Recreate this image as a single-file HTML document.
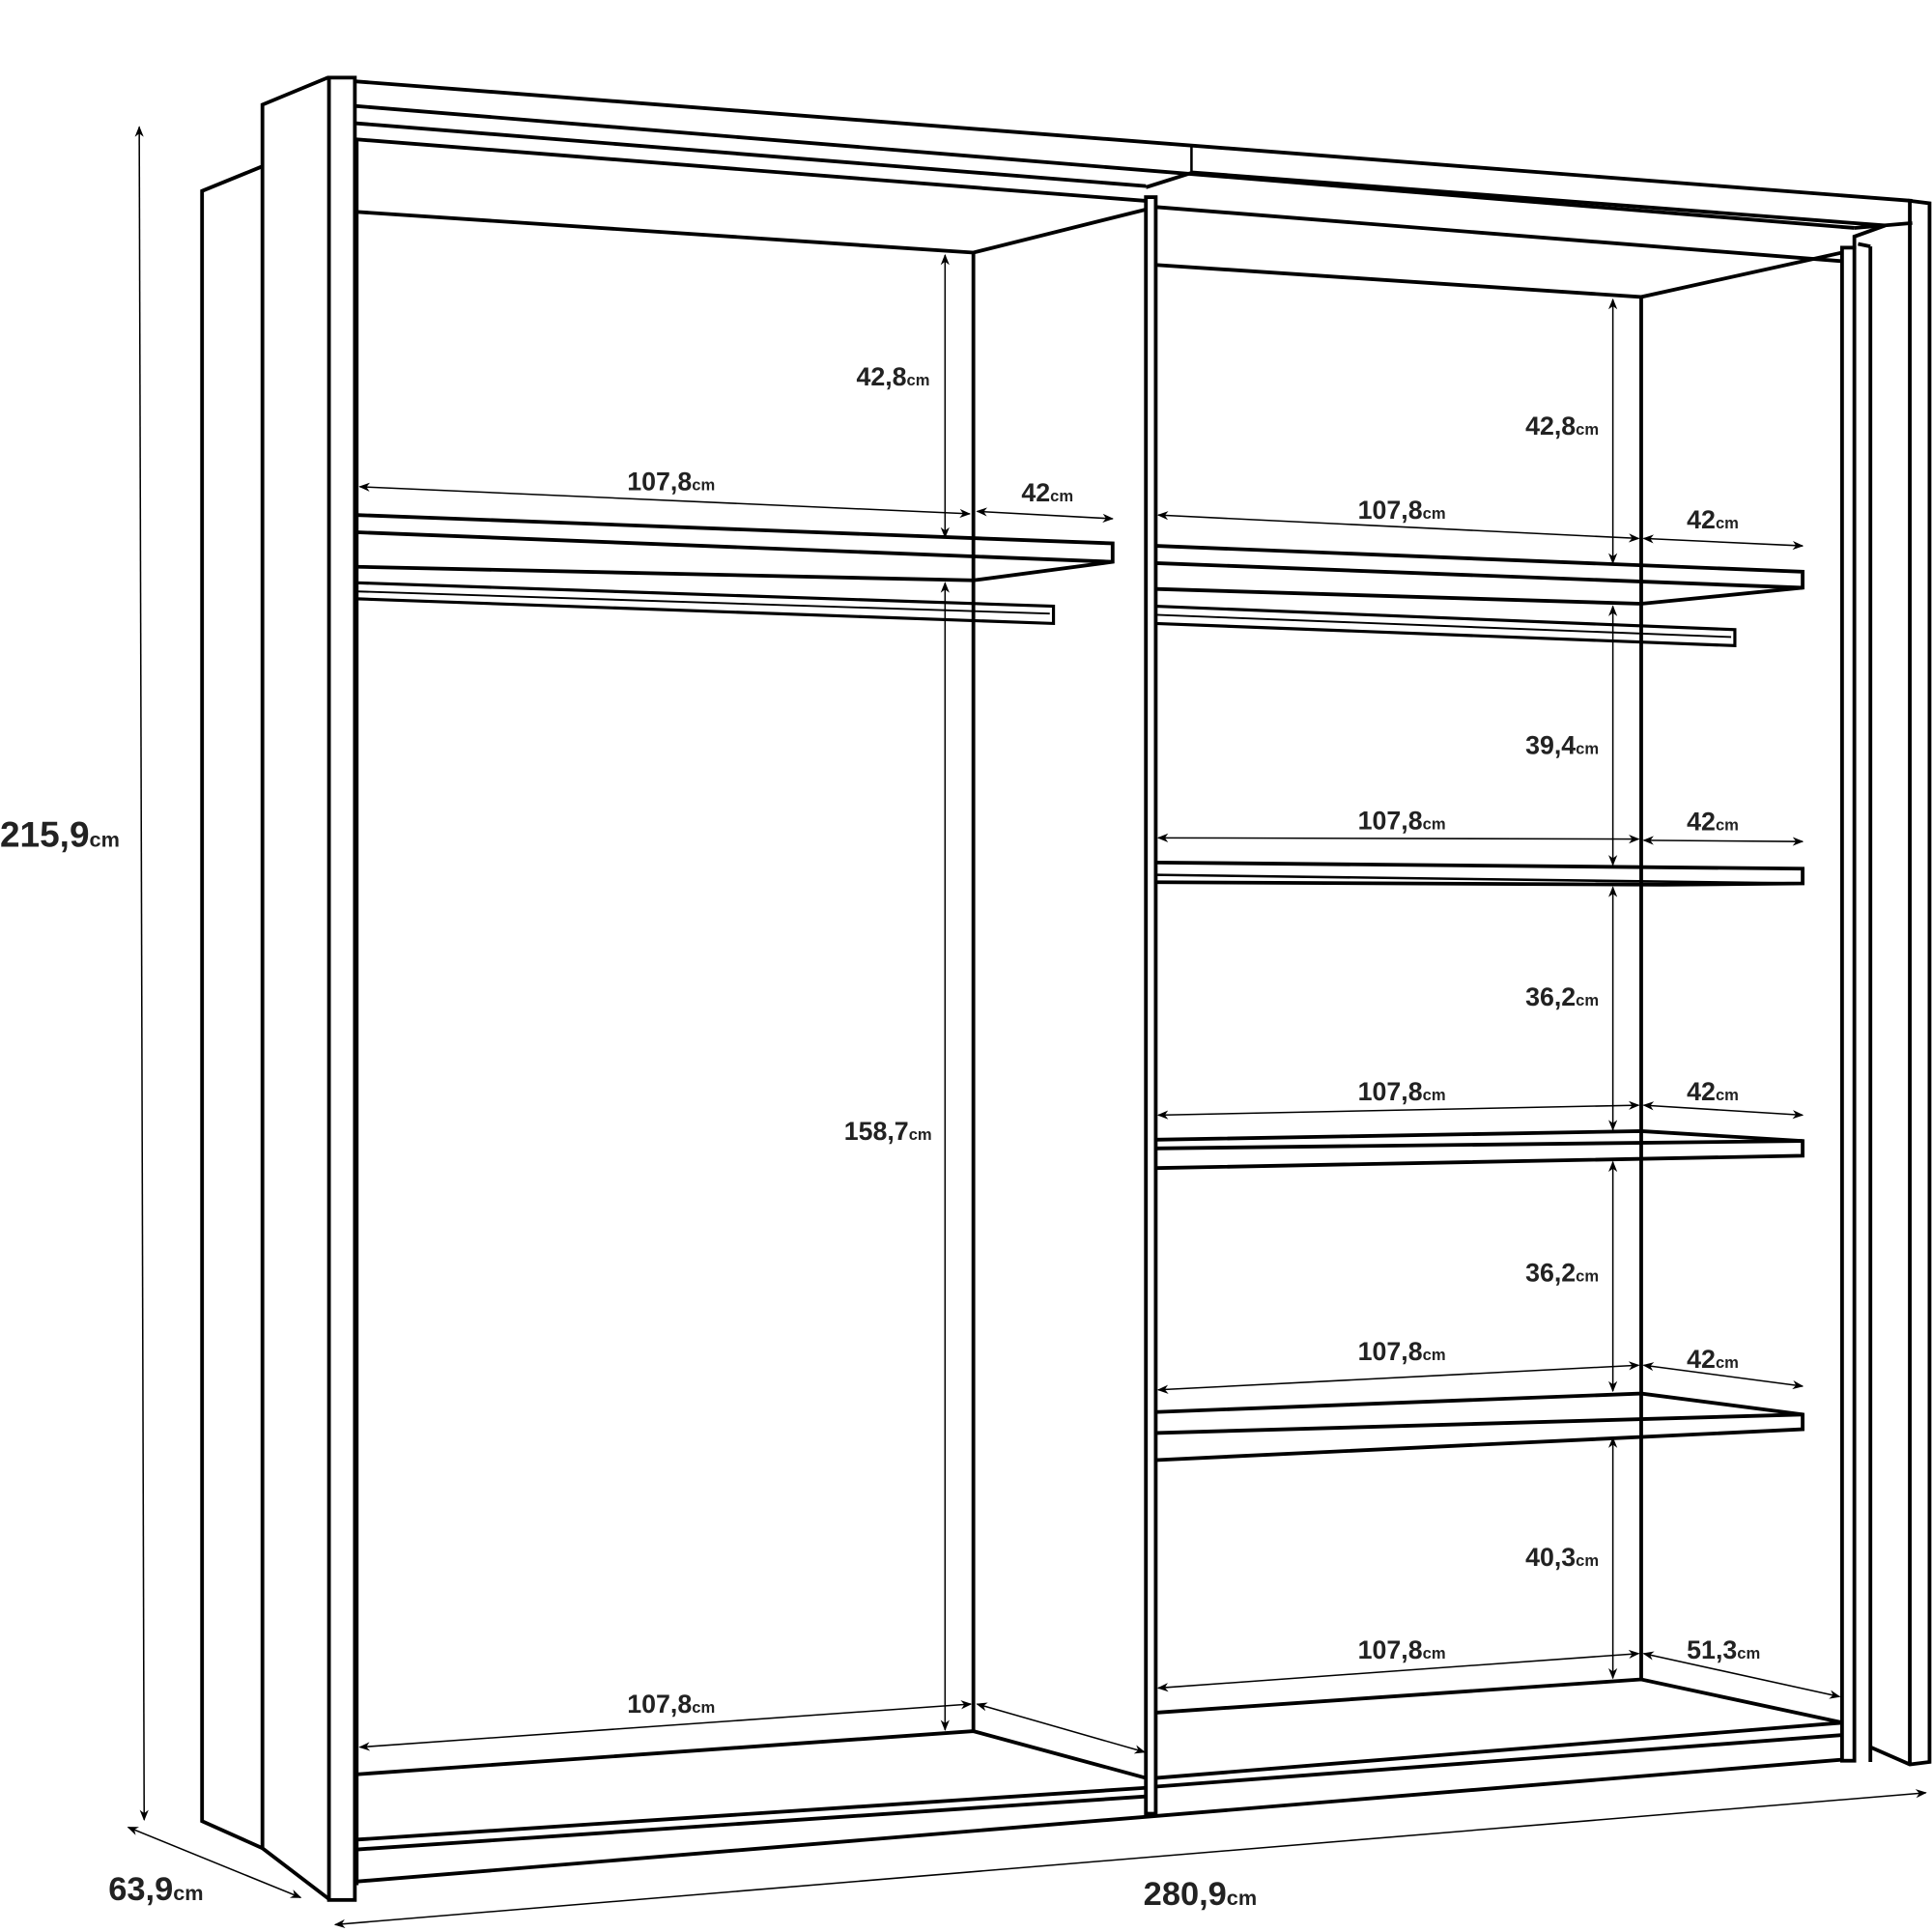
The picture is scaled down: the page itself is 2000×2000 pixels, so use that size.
<!DOCTYPE html>
<html><head><meta charset="utf-8"><style>
html,body{margin:0;padding:0;background:#fff}
svg{display:block}
text{font-family:"Liberation Sans",sans-serif;font-weight:bold;fill:#222}
.t{font-size:21px}
.c{font-size:13px}
</style></head><body>
<svg width="2000" height="2000" viewBox="0 0 1568 1568" xmlns="http://www.w3.org/2000/svg">
<defs>
<marker id="a" viewBox="0 0 10 10" refX="9" refY="5" markerWidth="9" markerHeight="9" orient="auto-start-reverse" markerUnits="userSpaceOnUse"><path d="M0,1 L10,5 L0,9 L3,5 Z" fill="#000"/></marker>
</defs>
<g fill="none" stroke="#000" stroke-width="3" stroke-linejoin="miter">
<!-- left back side -->
<polyline points="213,135 164,155 164,1478 213,1500"/>
<!-- left front side -->
<polyline points="268,1542 213,1500 213,85 266,63"/>
<rect x="267" y="63" width="21" height="1479" fill="#fff"/>
<line x1="290" y1="113" x2="290" y2="1530" stroke-width="2"/>
<!-- top -->
<line x1="288" y1="66" x2="1552" y2="163"/>
<line x1="288" y1="86" x2="1505" y2="185"/>
<line x1="967" y1="118" x2="967" y2="140" stroke-width="2"/>
<line x1="288" y1="100" x2="930" y2="151"/>
<line x1="288" y1="113" x2="930" y2="163"/>
<polyline points="930,152 968,140 1530,183 1505,192 1505,201 1495,203 1495,212 938,168"/>
<polyline points="1505,185 1552,181"/>
<!-- central divider -->
<rect x="930" y="160" width="8" height="1312" fill="#fff"/>
<!-- left compartment back -->
<polyline points="290,172 790,205 930,170"/>
<line x1="790" y1="205" x2="790" y2="1405"/>
<polyline points="290,1440 790,1405 930,1443"/>
<line x1="290" y1="1493" x2="930" y2="1451"/>
<line x1="290" y1="1501" x2="930" y2="1458"/>
<line x1="290" y1="1527" x2="1497" y2="1428"/>
<line x1="938" y1="1450" x2="1497" y2="1408"/>
<line x1="938" y1="1443" x2="1497" y2="1398"/>
<!-- right compartment back -->
<polyline points="938,215 1332,241 1495,205"/>
<line x1="1332" y1="241" x2="1332" y2="1363"/>
<polyline points="938,1390 1332,1363 1495,1398"/>
<!-- right side panels -->
<rect x="1495" y="201" width="10" height="1228" fill="#fff"/>
<line x1="1508" y1="198" x2="1518" y2="200"/>
<line x1="1518" y1="200" x2="1518" y2="1430"/>
<polyline points="1518,1418 1550,1432 1566,1430 1566,165 1550,163 1550,1432"/>
<!-- left shelf -->
<polyline points="290,418 903,441 903,456 790,471 290,460"/>
<line x1="290" y1="432" x2="903" y2="456"/>
<polyline points="290,473 855,492 855,506 290,486" stroke-width="2.5"/>
<line x1="290" y1="480" x2="852" y2="498" stroke-width="1.5"/>
<!-- right shelves -->
<polyline points="938,443 1463,464 1463,477 1332,490 938,478"/>
<line x1="938" y1="457" x2="1463" y2="477"/>
<polyline points="938,492 1408,511 1408,524 938,506" stroke-width="2.5"/>
<line x1="938" y1="499" x2="1405" y2="517" stroke-width="1.5"/>
<polyline points="938,700 1463,705 1463,717 1350,718 938,716"/>
<line x1="938" y1="710" x2="1463" y2="717" stroke-width="2"/>
<polyline points="938,925 1332,918 1463,926 1463,938 938,948"/>
<line x1="938" y1="932" x2="1463" y2="926"/>
<polyline points="938,1146 1332,1131 1463,1148 1463,1160 938,1185"/>
<line x1="938" y1="1163" x2="1463" y2="1148"/>
</g>
<g stroke="#000" stroke-width="1.2" fill="none" marker-start="url(#a)" marker-end="url(#a)">
<line x1="113" y1="103" x2="117" y2="1477"/>
<line x1="104" y1="1483" x2="244" y2="1540"/>
<line x1="272" y1="1562" x2="1563" y2="1455"/>
<line x1="767" y1="207" x2="767" y2="436"/>
<line x1="292" y1="395" x2="787" y2="417"/>
<line x1="793" y1="415" x2="903" y2="421"/>
<line x1="767" y1="473" x2="767" y2="1404"/>
<line x1="292" y1="1418" x2="788" y2="1383"/>
<line x1="793" y1="1383" x2="929" y2="1422"/>
<line x1="1309" y1="243" x2="1309" y2="457"/>
<line x1="940" y1="418" x2="1330" y2="437"/>
<line x1="1334" y1="437" x2="1463" y2="443"/>
<line x1="1309" y1="492" x2="1309" y2="702"/>
<line x1="940" y1="680" x2="1330" y2="681"/>
<line x1="1334" y1="682" x2="1463" y2="683"/>
<line x1="1309" y1="720" x2="1309" y2="917"/>
<line x1="940" y1="905" x2="1330" y2="897"/>
<line x1="1334" y1="897" x2="1463" y2="905"/>
<line x1="1309" y1="943" x2="1309" y2="1129"/>
<line x1="940" y1="1128" x2="1330" y2="1108"/>
<line x1="1334" y1="1108" x2="1463" y2="1125"/>
<line x1="1309" y1="1167" x2="1309" y2="1362"/>
<line x1="940" y1="1370" x2="1330" y2="1342"/>
<line x1="1334" y1="1342" x2="1493" y2="1377"/>
</g>
<g>
<text x="0" y="687" style="font-size:29px">215,9<tspan style="font-size:17px">cm</tspan></text>
<text x="88" y="1542" style="font-size:27px">63,9<tspan style="font-size:17px">cm</tspan></text>
<text x="928" y="1546" style="font-size:27px">280,9<tspan style="font-size:17px">cm</tspan></text>
<text class="t" x="695" y="313">42,8<tspan class="c">cm</tspan></text>
<text class="t" x="509" y="398">107,8<tspan class="c">cm</tspan></text>
<text class="t" x="829" y="407">42<tspan class="c">cm</tspan></text>
<text class="t" x="685" y="925">158,7<tspan class="c">cm</tspan></text>
<text class="t" x="509" y="1390">107,8<tspan class="c">cm</tspan></text>
<text class="t" x="1238" y="353">42,8<tspan class="c">cm</tspan></text>
<text class="t" x="1102" y="421">107,8<tspan class="c">cm</tspan></text>
<text class="t" x="1369" y="429">42<tspan class="c">cm</tspan></text>
<text class="t" x="1238" y="612">39,4<tspan class="c">cm</tspan></text>
<text class="t" x="1102" y="673">107,8<tspan class="c">cm</tspan></text>
<text class="t" x="1369" y="674">42<tspan class="c">cm</tspan></text>
<text class="t" x="1238" y="816">36,2<tspan class="c">cm</tspan></text>
<text class="t" x="1102" y="893">107,8<tspan class="c">cm</tspan></text>
<text class="t" x="1369" y="893">42<tspan class="c">cm</tspan></text>
<text class="t" x="1238" y="1040">36,2<tspan class="c">cm</tspan></text>
<text class="t" x="1102" y="1104">107,8<tspan class="c">cm</tspan></text>
<text class="t" x="1369" y="1110">42<tspan class="c">cm</tspan></text>
<text class="t" x="1238" y="1271">40,3<tspan class="c">cm</tspan></text>
<text class="t" x="1102" y="1346">107,8<tspan class="c">cm</tspan></text>
<text class="t" x="1369" y="1346">51,3<tspan class="c">cm</tspan></text>
</g>
</svg>
</body></html>
